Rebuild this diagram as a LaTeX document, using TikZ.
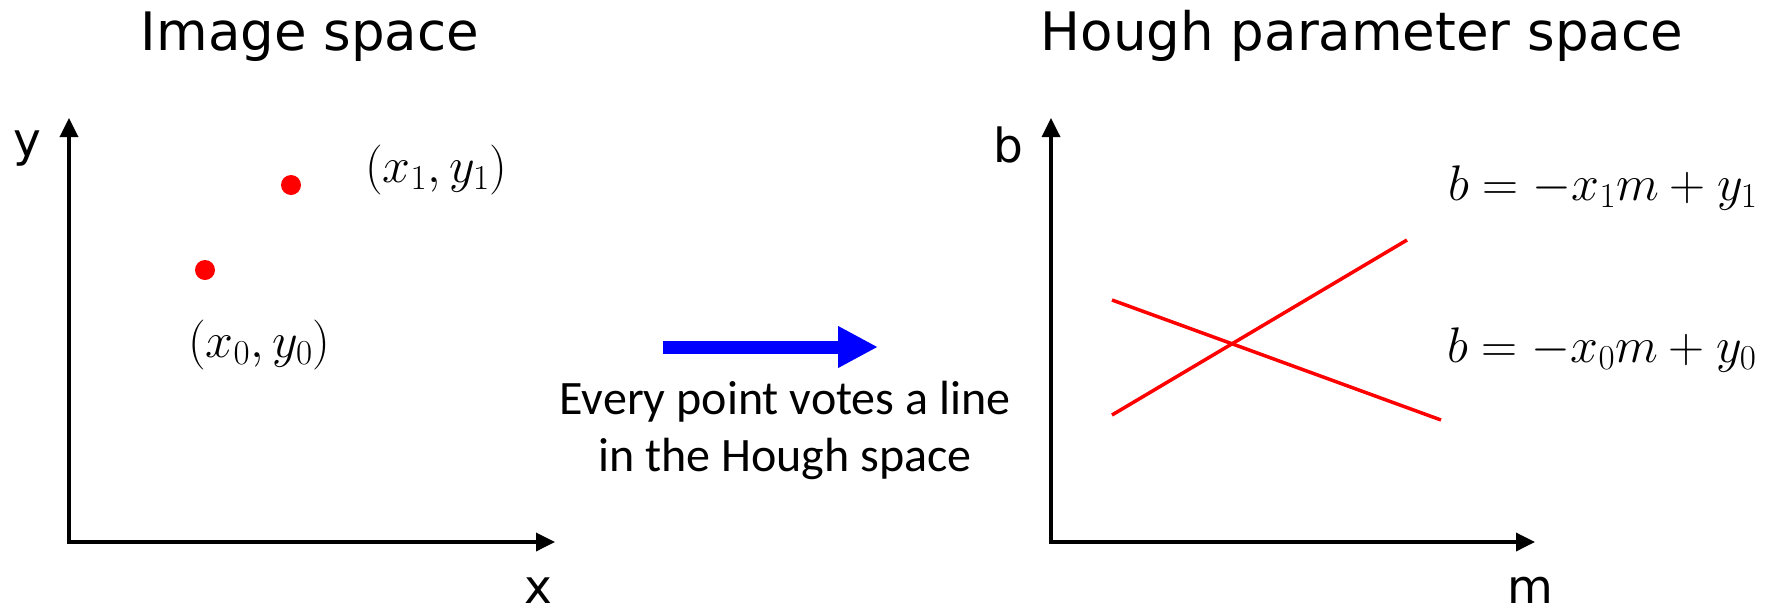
\RequirePackage{fix-cm}
\documentclass[tikz,border=0pt]{standalone}
\usepackage{fontspec}
\newfontfamily\titlefont{DejaVu Sans}
\newfontfamily\notefont{Carlito}
\usetikzlibrary{positioning,arrows.meta}
\definecolor{VoteBlue}{HTML}{0000FF}
\definecolor{PointRed}{HTML}{FF0000}

\begin{document}
\begin{tikzpicture}[x=1pt,y=-1pt,>={Triangle[length=19pt,width=18pt]},
  axis/.style={<->,line width=3.5pt},
  title/.style={anchor=base,inner sep=0pt,font=\titlefont\fontsize{53}{60}\selectfont},
  axislabel/.style={anchor=base,inner sep=0pt,font=\titlefont\fontsize{47}{55}\selectfont},
  mathlabel/.style={anchor=base west,inner sep=0pt,font=\fontsize{50}{60}\selectfont},
  dot/.style={circle,fill=PointRed,inner sep=0pt,minimum size=20pt},
  vote/.style={draw=PointRed,line width=3.5pt}]
  \useasboundingbox (0,0) rectangle (1773,611);

  \node[title] (imgtitle) at (310,50) {Image space};
  \node[title] (houghtitle) at (1362,50) {Hough parameter space};

  \coordinate (imgorig) at (69,542);
  \coordinate (imgy) at (69,118);
  \coordinate (imgx) at (555,542);
  \draw[axis] (imgy) -- (imgorig) -- (imgx);
  \node[axislabel] (ylab) at (27,156) {y};
  \node[axislabel] (xlab) at (538,603) {x};

  \node[dot] (p1) at (291,185) {};
  \node[dot] (p0) at (205,270) {};
  \node[mathlabel] (p1lab) at (365,182) {$(x_1,y_1)$};
  \node[mathlabel] (p0lab) at (188,357) {$(x_0,y_0)$};

  \coordinate (votestart) at (663,347);
  \coordinate (voteend) at (878,347);
  \draw[VoteBlue,line width=13pt,-{Triangle[length=40pt,width=39pt]}] (votestart) -- (voteend);
  \node[anchor=base,align=center,inner sep=0pt,font=\notefont\fontsize{48}{57}\selectfont] (votetext) at (785,471) {Every point votes a line\\in the Hough space};

  \coordinate (houghorig) at (1051,542);
  \coordinate (houghb) at (1051,118);
  \coordinate (houghm) at (1535,542);
  \draw[axis] (houghb) -- (houghorig) -- (houghm);
  \node[axislabel] (blab) at (1008,162) {b};
  \node[axislabel] (mlab) at (1530,603) {m};

  \coordinate (l1a) at (1112,415);
  \coordinate (l1b) at (1407,240);
  \coordinate (l0a) at (1112,300);
  \coordinate (l0b) at (1441,420);
  \draw[vote] (l1a) -- (l1b);
  \draw[vote] (l0a) -- (l0b);
  \node[mathlabel] (eq1) at (1448,200) {$b=-x_1m+y_1$};
  \node[mathlabel] (eq0) at (1447,362) {$b=-x_0m+y_0$};
\end{tikzpicture}
\end{document}
